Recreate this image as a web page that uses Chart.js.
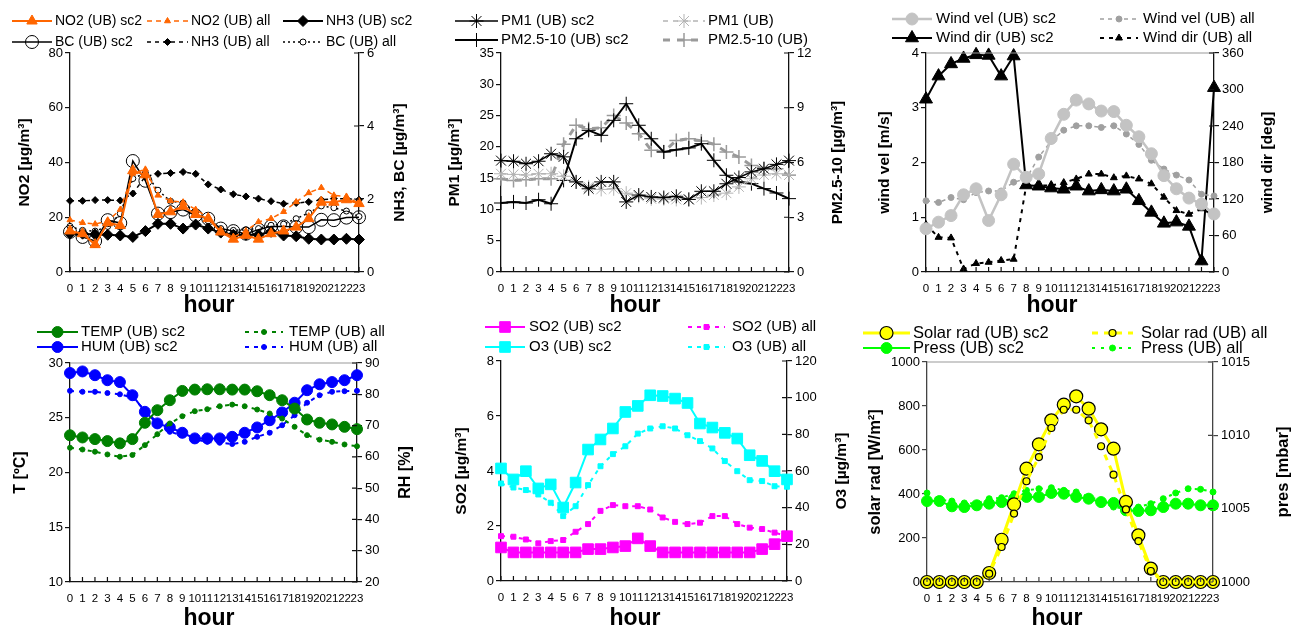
<!DOCTYPE html>
<html>
<head>
<meta charset="utf-8">
<script src="https://cdn.jsdelivr.net/npm/chart.js@4.4.0/dist/chart.umd.min.js"></script>
<style>
  body { margin: 0; background: #fff; width: 1292px; height: 629px; overflow: hidden; position: relative; }
  canvas { position: absolute; }
</style>
</head>
<body>
<canvas id="c1" width="430" height="317" style="left:0;top:0"></canvas>
<canvas id="c2" width="430" height="317" style="left:430px;top:0"></canvas>
<canvas id="c3" width="432" height="317" style="left:860px;top:0"></canvas>
<canvas id="c4" width="430" height="317" style="left:0;top:312px"></canvas>
<canvas id="c5" width="430" height="317" style="left:430px;top:312px"></canvas>
<canvas id="c6" width="432" height="317" style="left:860px;top:312px"></canvas>
<script>
/* ---- data ---- */
const hours = ["0","1","2","3","4","5","6","7","8","9","10","11","12","13","14","15","16","17","18","19","20","21","22","23"];

const no2Sc2 = [15,14,10,18,17,37,35.5,21,22,24,21,19.5,14.6,12,13.4,12,14,15,16.4,19.5,25.5,25.5,26.4,25];
const no2All = [19,18,17.5,18.6,22.8,36,37.5,28,26,25.5,22.8,20,15,12.8,15,18.3,19.5,22,25.6,28.9,30.8,28,27.6,25];
const nh3Sc2 = [1.05,1.05,1.03,1.02,1.0,0.96,1.12,1.32,1.32,1.19,1.3,1.19,1.08,1.02,1.02,1.02,1.1,1.0,0.98,0.91,0.89,0.89,0.91,0.89];
const nh3All = [1.95,1.95,1.97,1.97,1.96,2.15,2.62,2.69,2.71,2.74,2.69,2.4,2.26,2.13,2.07,2.01,1.94,1.87,1.89,1.92,1.98,2.01,2.01,1.98];
const bcSc2  = [1.1,0.96,0.85,1.42,1.34,3.04,2.5,1.6,1.64,1.71,1.55,1.46,1.19,1.12,1.05,1.16,1.25,1.25,1.23,1.23,1.43,1.42,1.49,1.5];
const bcAll  = [1.25,1.14,1.12,1.25,1.6,2.56,2.71,2.24,1.94,1.89,1.64,1.4,1.19,1.14,1.16,1.19,1.28,1.31,1.46,1.62,1.81,1.76,1.67,1.52];

const pm1Sc2      = [17.8,17.7,17.3,17.7,18.9,18.4,14.4,13.3,14.4,14.4,11.2,12.3,12.0,11.9,12.1,11.6,12.9,12.9,14.1,15.1,16.0,16.5,17.2,17.8];
const pm1All      = [15.7,15.6,15.5,15.7,15.7,15.3,14.4,13.6,13.2,13.3,12.6,12.1,11.7,11.7,11.6,11.6,11.9,12.3,12.6,13.6,14.9,15.5,15.7,15.5];
const pmCoarseSc2 = [3.78,3.84,3.78,3.96,3.74,5.02,7.3,7.76,7.49,8.31,9.22,8.04,7.3,6.58,6.7,6.8,7.03,6.12,5.3,4.93,4.84,4.57,4.33,4.02];
const pmCoarseAll = [5.11,5.02,5.06,5.11,5.11,7.0,8.04,7.85,7.9,8.58,8.16,7.58,6.67,6.58,7.21,7.3,7.18,7.0,6.58,6.3,5.84,5.66,5.66,5.3];

const windVelSc2 = [0.79,0.91,1.03,1.41,1.52,0.94,1.41,1.97,1.73,1.79,2.44,2.88,3.14,3.07,2.94,2.93,2.68,2.47,2.16,1.76,1.52,1.35,1.24,1.06];
const windVelAll = [1.3,1.27,1.36,1.32,1.45,1.48,1.48,1.64,1.7,2.1,2.39,2.59,2.67,2.67,2.64,2.67,2.52,2.33,2.04,1.88,1.77,1.68,1.42,1.39];
const windDirSc2 = [284,322,342,351,357,356,322,355,143,141,138,136,141,133,135,133,136,117,98,80,82,75,18,303];
const windDirAll = [78,57,56,5,14,16,19,21,142,142,142,147,153,161,161,155,158,153,145,123,101,95,104,93];

const tempSc2 = [23.4,23.2,23.05,22.87,22.66,23.05,24.54,25.69,26.6,27.45,27.57,27.6,27.6,27.57,27.57,27.42,27.06,26.6,25.84,24.84,24.54,24.39,24.17,23.96];
const tempAll = [22.26,22.1,21.9,21.65,21.44,21.6,22.5,23.5,24.48,25.14,25.6,25.78,26.05,26.2,26.05,25.75,25.39,24.93,24.17,23.41,23.0,22.8,22.56,22.4];
const humSc2  = [86.8,87.3,86.1,84.5,83.9,79.7,74.4,70.7,69.4,67.7,65.9,65.9,65.9,66.4,67.7,69.4,71.7,74.2,77.3,81.3,83.2,83.9,84.5,86.1];
const humAll  = [81.1,80.8,80.8,80.4,80.0,79.0,74.9,70.9,68.0,66.9,65.6,64.8,64.5,64.1,64.8,66.4,67.7,70.1,73.3,77.3,79.7,80.8,81.0,81.1];

const so2Sc2 = [1.22,1.04,1.04,1.04,1.04,1.04,1.04,1.16,1.16,1.22,1.27,1.55,1.27,1.04,1.04,1.04,1.04,1.04,1.04,1.04,1.04,1.16,1.34,1.63];
const so2All = [1.63,1.61,1.51,1.37,1.45,1.49,1.79,2.07,2.55,2.76,2.72,2.72,2.6,2.31,2.15,2.07,2.12,2.36,2.36,2.07,1.94,1.89,1.76,1.63];
const o3Sc2  = [61.4,55.4,59.9,50.5,52.7,40.1,53.7,71.7,77.2,83.2,92.2,95.5,101.3,100.9,99.5,97.1,85.9,83.7,80.8,77.7,68.6,65.5,59.9,55.4];
const o3All  = [53.2,51.0,49.6,47.2,42.7,35.4,40.8,52.3,62.6,69.2,73.5,80.4,83.2,84.4,83.2,79.5,76.3,72.3,65.4,59.9,55.0,54.5,51.7,51.4];

const solarSc2 = [0,0,0,0,0,41,192,353,515,626,735,806,844,788,694,606,364,212,61,0,0,0,0,0];
const solarAll = [0,0,0,0,0,38,159,311,458,568,700,783,783,735,617,488,330,186,50,0,0,0,0,0];
const pressSc2 = [1005.52,1005.52,1005.16,1005.11,1005.23,1005.34,1005.45,1005.68,1005.8,1005.8,1006.07,1006.02,1005.8,1005.68,1005.45,1005.39,1004.89,1004.84,1004.89,1005.11,1005.34,1005.34,1005.23,1005.23];
const pressAll = [1006.07,1005.61,1005.52,1005.39,1005.34,1005.68,1005.75,1006.02,1006.25,1006.36,1006.43,1006.25,1006.14,1005.8,1005.57,1005.11,1005.0,1005.11,1005.34,1005.68,1006.07,1006.36,1006.32,1006.14];

/* ---- helpers ---- */
const FONT = '"Liberation Sans", Arial, Helvetica, sans-serif';
Chart.defaults.font.family = FONT;
Chart.defaults.color = "#000";

function series(label, data, color, o) {
  return Object.assign({
    label, data,
    borderColor: color, backgroundColor: color,
    pointBackgroundColor: color, pointBorderColor: color,
    borderWidth: 1.5, pointBorderWidth: 1, pointRadius: 5, pointHoverRadius: 5,
    pointStyle: "circle", borderDash: [], tension: 0, clip: false, yAxisID: "y"
  }, o);
}

function yScale(pos, min, max, step, width, axisColor) {
  return {
    position: pos, min, max,
    ticks: { stepSize: step, font: { size: 13 }, padding: pos === "left" ? 2 : 3, color: "#000", callback: v => String(v) },
    grid: { drawOnChartArea: false, tickLength: 5, color: axisColor, lineWidth: 1.2 },
    border: { color: axisColor, width: 1.3 },
    afterFit: s => { s.width = width; }
  };
}

// one panel of the figure: axes, custom legend and axis titles
function panel(id, W, H, area, cfg) {
  const axisColor = cfg.axisColor || "#111";
  const deco = {
    id: "deco",
    afterDraw(chart) {
      const c = chart.ctx;
      const ca = chart.chartArea;
      c.save();
      if (cfg.topBorder) {
        c.strokeStyle = "#999"; c.lineWidth = 1.2;
        c.beginPath(); c.moveTo(ca.left, ca.top); c.lineTo(ca.right, ca.top); c.stroke();
      }
      // inner tick marks: x ticks point up, right-axis ticks cross the axis
      c.strokeStyle = axisColor; c.lineWidth = 1.2;
      c.beginPath();
      hours.forEach((h, i) => {
        const px = chart.scales.x.getPixelForValue(i);
        c.moveTo(px, ca.bottom); c.lineTo(px, ca.bottom - 5);
      });
      chart.scales.y2.ticks.forEach(t => {
        const py = chart.scales.y2.getPixelForValue(t.value);
        c.moveTo(ca.right - 5, py); c.lineTo(ca.right, py);
      });
      c.stroke();
      // legend
      c.font = cfg.legendSize + "px " + FONT;
      c.textBaseline = "middle";
      cfg.legend.forEach(it => {
        const ds = chart.data.datasets[it.ds];
        c.save();
        c.strokeStyle = ds.borderColor;
        c.lineWidth = ds.borderWidth;
        c.setLineDash(ds.borderDash || []);
        c.beginPath(); c.moveTo(it.x0, it.y); c.lineTo(it.x1, it.y); c.stroke();
        c.setLineDash([]);
        c.fillStyle = ds.pointBackgroundColor;
        c.strokeStyle = ds.pointBorderColor;
        c.lineWidth = ds.pointBorderWidth;
        Chart.helpers.drawPoint(c, {
          pointStyle: ds.pointStyle, radius: ds.pointRadius, rotation: 0, borderWidth: ds.pointBorderWidth
        }, (it.x0 + it.x1) / 2, it.y);
        c.restore();
        c.fillStyle = "#000";
        c.fillText(ds.label, it.tx, it.y);
      });
      // axis titles
      const midY = (ca.top + ca.bottom) / 2;
      c.font = "bold " + cfg.titleSize + "px " + FONT;
      c.textAlign = "center";
      c.textBaseline = "middle";
      [[cfg.leftTitle, cfg.leftX], [cfg.rightTitle, cfg.rightX]].forEach(([t, x]) => {
        c.save();
        c.translate(x, midY);
        c.rotate(-Math.PI / 2);
        c.fillText(t, 0, 0);
        c.restore();
      });
      c.font = "bold 23px " + FONT;
      c.textBaseline = "alphabetic";
      c.fillText("hour", cfg.hourX, cfg.hourY);
      c.restore();
    }
  };

  new Chart(document.getElementById(id), {
    type: "line",
    data: { labels: hours, datasets: cfg.datasets },
    options: {
      responsive: false,
      animation: false,
      events: [],
      layout: { padding: { top: area.t, left: 0, right: 0, bottom: 0 } },
      plugins: { legend: { display: false }, tooltip: { enabled: false } },
      scales: {
        x: {
          type: "category", offset: false,
          grid: { drawOnChartArea: false, drawTicks: false, offset: false },
          border: { color: axisColor, width: 1.3 },
          ticks: { autoSkip: false, maxRotation: 0, minRotation: 0, font: { size: 11.5 }, padding: 10, color: "#000" },
          afterFit: s => { s.height = H - area.b; }
        },
        y: yScale("left", cfg.y[0], cfg.y[1], cfg.y[2], area.l, axisColor),
        y2: yScale("right", cfg.y2[0], cfg.y2[1], cfg.y2[2], W - area.r, axisColor)
      }
    },
    plugins: [deco]
  });
}

const ORANGE = "#FF6600";

/* ---- NO2 / NH3 / BC ---- */
panel("c1", 430, 317, { l: 70, r: 359, t: 53, b: 272 }, {
  y: [0, 80, 20], y2: [0, 6, 2],
  datasets: [
    series("NO2 (UB) sc2", no2Sc2, ORANGE, { pointStyle: "triangle", pointRadius: 6, borderWidth: 2 }),
    series("NO2 (UB) all", no2All, ORANGE, { pointStyle: "triangle", pointRadius: 3.5, borderDash: [5, 4] }),
    series("NH3 (UB) sc2", nh3Sc2, "#000", { pointStyle: "rectRot", pointRadius: 5.5, yAxisID: "y2", borderWidth: 2 }),
    series("BC (UB) sc2", bcSc2, "#000", { pointRadius: 6.5, pointBackgroundColor: "rgba(0,0,0,0)", yAxisID: "y2" }),
    series("NH3 (UB) all", nh3All, "#000", { pointStyle: "rectRot", pointRadius: 3.5, borderDash: [4, 4], yAxisID: "y2" }),
    series("BC (UB) all", bcAll, "#000", { pointRadius: 3, pointBackgroundColor: "#fff", borderDash: [2, 3], yAxisID: "y2" })
  ],
  legendSize: 14,
  legend: [
    { ds: 0, x0: 12, x1: 52, tx: 55, y: 21 },
    { ds: 1, x0: 147, x1: 188, tx: 191, y: 21 },
    { ds: 2, x0: 283, x1: 323, tx: 326, y: 21 },
    { ds: 3, x0: 12, x1: 52, tx: 55, y: 42 },
    { ds: 4, x0: 147, x1: 188, tx: 191, y: 42 },
    { ds: 5, x0: 283, x1: 323, tx: 326, y: 42 }
  ],
  titleSize: 15.5, leftTitle: "NO2 [µg/m³]", leftX: 25, rightTitle: "NH3, BC [µg/m³]", rightX: 400,
  hourX: 209, hourY: 312
});

/* ---- PM1 / PM2.5-10 ---- */
panel("c2", 430, 317, { l: 71, r: 359, t: 53, b: 272 }, {
  y: [0, 35, 5], y2: [0, 12, 3],
  datasets: [
    series("PM1 (UB) sc2", pm1Sc2, "#000", { pointStyle: "star", pointRadius: 7 }),
    series("PM1 (UB)", pm1All, "#b4b4b4", { pointStyle: "star", pointRadius: 7, borderDash: [5, 5] }),
    series("PM2.5-10 (UB) sc2", pmCoarseSc2, "#000", { pointStyle: "cross", pointRadius: 7, yAxisID: "y2", borderWidth: 2 }),
    series("PM2.5-10 (UB)", pmCoarseAll, "#9a9a9a", { pointStyle: "cross", pointRadius: 7, yAxisID: "y2", borderWidth: 3, pointBorderWidth: 1.5, borderDash: [7, 7] })
  ],
  legendSize: 15,
  legend: [
    { ds: 0, x0: 25, x1: 68, tx: 71, y: 21 },
    { ds: 1, x0: 233, x1: 275, tx: 278, y: 21 },
    { ds: 2, x0: 25, x1: 68, tx: 71, y: 40 },
    { ds: 3, x0: 233, x1: 275, tx: 278, y: 40 }
  ],
  titleSize: 15.5, leftTitle: "PM1 [µg/m³]", leftX: 25, rightTitle: "PM2.5-10 [µg/m³]", rightX: 408,
  hourX: 205, hourY: 312
});

/* ---- wind ---- */
panel("c3", 432, 317, { l: 66, r: 354, t: 53, b: 272 }, {
  y: [0, 4, 1], y2: [0, 360, 60], topBorder: true,
  datasets: [
    series("Wind vel (UB) sc2", windVelSc2, "#c3c3c3", { pointRadius: 6, borderWidth: 2.5 }),
    series("Wind vel (UB) all", windVelAll, "#a0a0a0", { pointRadius: 3, borderDash: [4, 4] }),
    series("Wind dir (UB) sc2", windDirSc2, "#000", { pointStyle: "triangle", pointRadius: 7.5, yAxisID: "y2", borderWidth: 2 }),
    series("Wind dir (UB) all", windDirAll, "#000", { pointStyle: "triangle", pointRadius: 4, yAxisID: "y2", borderWidth: 2, borderDash: [4, 5] })
  ],
  legendSize: 15,
  legend: [
    { ds: 0, x0: 32, x1: 72, tx: 76, y: 19 },
    { ds: 1, x0: 240, x1: 278, tx: 283, y: 19 },
    { ds: 2, x0: 32, x1: 72, tx: 76, y: 38 },
    { ds: 3, x0: 240, x1: 278, tx: 283, y: 38 }
  ],
  titleSize: 15.5, leftTitle: "wind vel [m/s]", leftX: 25, rightTitle: "wind dir [deg]", rightX: 408,
  hourX: 192, hourY: 312
});

/* ---- temperature / humidity ---- */
panel("c4", 430, 317, { l: 70, r: 357, t: 51, b: 270 }, {
  y: [10, 30, 5], y2: [20, 90, 10], topBorder: true,
  datasets: [
    series("TEMP (UB) sc2", tempSc2, "#008000", { pointRadius: 5.5, borderWidth: 2 }),
    series("TEMP (UB) all", tempAll, "#008000", { pointRadius: 2.5, borderWidth: 2, borderDash: [4, 5] }),
    series("HUM (UB) sc2", humSc2, "#0000ff", { pointRadius: 5.5, borderWidth: 2, yAxisID: "y2" }),
    series("HUM (UB) all", humAll, "#0000ff", { pointRadius: 2.5, borderWidth: 2, borderDash: [4, 5], yAxisID: "y2" })
  ],
  legendSize: 15,
  legend: [
    { ds: 0, x0: 37, x1: 78, tx: 81, y: 20 },
    { ds: 1, x0: 245, x1: 283, tx: 289, y: 20 },
    { ds: 2, x0: 37, x1: 78, tx: 81, y: 35 },
    { ds: 3, x0: 245, x1: 283, tx: 289, y: 35 }
  ],
  titleSize: 16, leftTitle: "T [ºC]", leftX: 21, rightTitle: "RH [%]", rightX: 406,
  hourX: 209, hourY: 313
});

/* ---- SO2 / O3 ---- */
panel("c5", 430, 317, { l: 71, r: 357, t: 49, b: 269 }, {
  y: [0, 8, 2], y2: [0, 120, 20],
  datasets: [
    series("SO2 (UB) sc2", so2Sc2, "#ff00ff", { pointStyle: "rect", pointRadius: 7.5, borderWidth: 2 }),
    series("SO2 (UB) all", so2All, "#ff00ff", { pointStyle: "rect", pointRadius: 3.5, borderWidth: 2, borderDash: [4, 5] }),
    series("O3 (UB) sc2", o3Sc2, "#00ffff", { pointStyle: "rect", pointRadius: 7.5, borderWidth: 2, yAxisID: "y2" }),
    series("O3 (UB) all", o3All, "#00ffff", { pointStyle: "rect", pointRadius: 3.5, borderWidth: 2, borderDash: [4, 5], yAxisID: "y2" })
  ],
  legendSize: 15,
  legend: [
    { ds: 0, x0: 55, x1: 95, tx: 99, y: 15 },
    { ds: 1, x0: 258, x1: 295, tx: 302, y: 15 },
    { ds: 2, x0: 55, x1: 95, tx: 99, y: 35 },
    { ds: 3, x0: 258, x1: 295, tx: 302, y: 35 }
  ],
  titleSize: 15.5, leftTitle: "SO2 [µg/m³]", leftX: 32, rightTitle: "O3 [µg/m³]", rightX: 412,
  hourX: 205, hourY: 313
});

/* ---- solar radiation / pressure ---- */
panel("c6", 432, 317, { l: 67, r: 353, t: 50, b: 270 }, {
  y: [0, 1000, 200], y2: [1000, 1015, 5], topBorder: true, axisColor: "#444",
  datasets: [
    series("Solar rad (UB) sc2", solarSc2, "#ffff00", { pointRadius: 6.5, borderWidth: 3, pointBorderColor: "#000", pointBorderWidth: 1.2, order: 1 }),
    series("Solar rad (UB) all", solarAll, "#ffff00", { pointRadius: 3.5, borderWidth: 3, borderDash: [6, 6], pointBorderColor: "#000", pointBorderWidth: 1.2, order: 0 }),
    series("Press (UB) sc2", pressSc2, "#00ff00", { pointRadius: 5.5, borderWidth: 2, yAxisID: "y2", order: 3 }),
    series("Press (UB) all", pressAll, "#00ff00", { pointRadius: 3, borderWidth: 2, borderDash: [3, 6], yAxisID: "y2", order: 2 })
  ],
  legendSize: 16.5,
  legend: [
    { ds: 0, x0: 3, x1: 50, tx: 53, y: 21 },
    { ds: 1, x0: 232, x1: 273, tx: 281, y: 21 },
    { ds: 2, x0: 3, x1: 50, tx: 53, y: 36 },
    { ds: 3, x0: 232, x1: 273, tx: 281, y: 36 }
  ],
  titleSize: 16.5, leftTitle: "solar rad [W/m²]", leftX: 15, rightTitle: "pres [mbar]", rightX: 423,
  hourX: 197, hourY: 313
});
</script>
</body>
</html>
